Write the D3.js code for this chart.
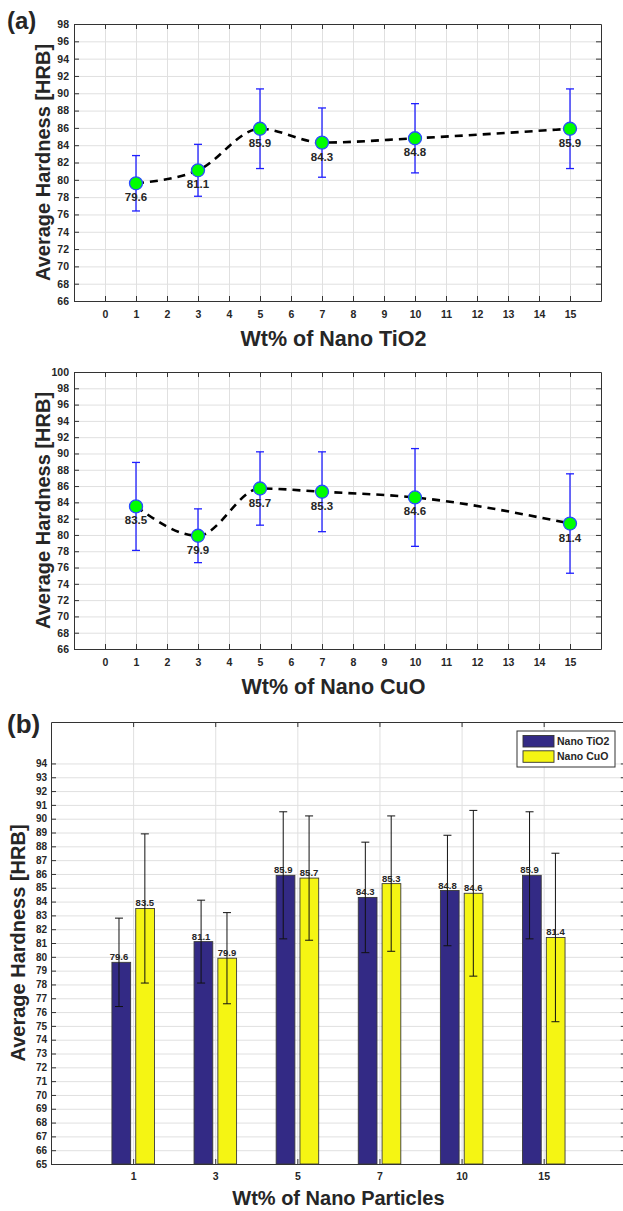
<!DOCTYPE html>
<html>
<head>
<meta charset="utf-8">
<script src="https://cdn.jsdelivr.net/npm/d3@7"></script>
<style>
    body { margin: 0; background: #fff; }
    svg text { font-family: "Liberation Sans", Arial, sans-serif; font-weight: bold; fill: #262626; }
    .grid line { stroke: #e0e0e0; stroke-width: 1; }
    .grid path { display: none; }
    .ax path, .ax line { stroke: #333; stroke-width: 1; }
</style>
</head>
<body>
<div id="chart"></div>
<script>

// values
const wtPercent = [1, 3, 5, 7, 10, 15];
const tio2Hardness = [79.6, 81.1, 85.9, 84.3, 84.8, 85.9];
const tio2Error = [3.2, 3.0, 4.6, 4.0, 4.0, 4.6];
const cuoHardness = [83.5, 79.9, 85.7, 85.3, 84.6, 81.4];
const cuoError = [5.4, 3.3, 4.5, 4.9, 6.0, 6.1];

// tick labels
const lineXTicks = [0, 1, 2, 3, 4, 5, 6, 7, 8, 9, 10, 11, 12, 13, 14, 15];
const tio2YTicks = [66, 68, 70, 72, 74, 76, 78, 80, 82, 84, 86, 88, 90, 92, 94, 96, 98];
const cuoYTicks = [66, 68, 70, 72, 74, 76, 78, 80, 82, 84, 86, 88, 90, 92, 94, 96, 98, 100];
const barYTicks = [65, 66, 67, 68, 69, 70, 71, 72, 73, 74, 75, 76, 77, 78, 79, 80,
    81, 82, 83, 84, 85, 86, 87, 88, 89, 90, 91, 92, 93, 94];
const seriesNames = ["Nano TiO2", "Nano CuO"];

const barColors = ["#332a85", "#f5f513"];

var width = 623, height = 1211, svg;

function init() {
    svg = d3.select("#chart").append("svg")
        .attr("width", width)
        .attr("height", height);

    drawLinePanel({ top: 24, bottom: 301, yMax: 98, yTicks: tio2YTicks,
        mean: tio2Hardness, err: tio2Error, xTitle: "Wt% of Nano TiO2" });
    drawLinePanel({ top: 372, bottom: 649, yMax: 100, yTicks: cuoYTicks,
        mean: cuoHardness, err: cuoError, xTitle: "Wt% of Nano CuO" });
    drawBarPanel();

    // panel letters
    svg.append("text").attr("x", 7).attr("y", 28.5).style("font-size", "24px").text("(a)");
    svg.append("text").attr("x", 7).attr("y", 732.5).style("font-size", "26px").text("(b)");
}

function drawLinePanel(cfg) {
    const left = 74, right = 601;
    const x = d3.scaleLinear().domain([-1, 16]).range([left, right]);
    const y = d3.scaleLinear().domain([66, cfg.yMax]).range([cfg.bottom, cfg.top]);
    const g = svg.append("g");

    // grid
    g.append("g").attr("class", "grid")
        .attr("transform", `translate(0,${cfg.bottom})`)
        .call(d3.axisBottom(x).tickValues(lineXTicks).tickSize(-(cfg.bottom - cfg.top)).tickFormat(""));
    g.append("g").attr("class", "grid")
        .attr("transform", `translate(${left},0)`)
        .call(d3.axisLeft(y).tickValues(cfg.yTicks).tickSize(-(right - left)).tickFormat(""));

    // axes, ticks pointing inward on all four sides
    g.append("g").attr("class", "ax")
        .attr("transform", `translate(0,${cfg.bottom})`)
        .call(d3.axisBottom(x).tickValues(lineXTicks).tickSize(-5).tickPadding(10).tickSizeOuter(0))
        .selectAll("text").style("font-size", "10.5px");
    g.append("g").attr("class", "ax")
        .attr("transform", `translate(0,${cfg.top})`)
        .call(d3.axisTop(x).tickValues(lineXTicks).tickSize(-5).tickFormat("").tickSizeOuter(0));
    g.append("g").attr("class", "ax")
        .attr("transform", `translate(${left},0)`)
        .call(d3.axisLeft(y).tickValues(cfg.yTicks).tickSize(-5).tickPadding(5).tickSizeOuter(0))
        .selectAll("text").style("font-size", "10.5px");
    g.append("g").attr("class", "ax")
        .attr("transform", `translate(${right},0)`)
        .call(d3.axisRight(y).tickValues(cfg.yTicks).tickSize(-5).tickFormat("").tickSizeOuter(0));

    // dashed trend line
    const line = d3.line().curve(d3.curveMonotoneX)
        .x((d, i) => x(wtPercent[i]))
        .y(d => y(d));
    g.append("path")
        .datum(cfg.mean)
        .attr("d", line)
        .attr("fill", "none")
        .attr("stroke", "#000")
        .attr("stroke-width", 2.6)
        .attr("stroke-dasharray", "8,6");

    // error bars
    const eb = g.selectAll(".eb").data(cfg.mean).join("g").attr("class", "eb");
    eb.append("line")
        .attr("x1", (d, i) => x(wtPercent[i])).attr("x2", (d, i) => x(wtPercent[i]))
        .attr("y1", (d, i) => y(d - cfg.err[i])).attr("y2", (d, i) => y(d + cfg.err[i]));
    eb.append("line")
        .attr("x1", (d, i) => x(wtPercent[i]) - 4).attr("x2", (d, i) => x(wtPercent[i]) + 4)
        .attr("y1", (d, i) => y(d + cfg.err[i])).attr("y2", (d, i) => y(d + cfg.err[i]));
    eb.append("line")
        .attr("x1", (d, i) => x(wtPercent[i]) - 4).attr("x2", (d, i) => x(wtPercent[i]) + 4)
        .attr("y1", (d, i) => y(d - cfg.err[i])).attr("y2", (d, i) => y(d - cfg.err[i]));
    eb.selectAll("line").attr("stroke", "#1f1fff").attr("stroke-width", 1.3);

    // markers
    g.selectAll(".pt").data(cfg.mean).join("circle")
        .attr("class", "pt")
        .attr("cx", (d, i) => x(wtPercent[i]))
        .attr("cy", d => y(d))
        .attr("r", 6.5)
        .attr("fill", "#00ff00")
        .attr("stroke", "#2a4cff")
        .attr("stroke-width", 1.3);

    // value labels under each point
    g.selectAll(".lbl").data(cfg.mean).join("text")
        .attr("class", "lbl")
        .attr("x", (d, i) => x(wtPercent[i]))
        .attr("y", d => y(d) + 18)
        .attr("text-anchor", "middle")
        .style("font-size", "11.5px")
        .text(d => d.toFixed(1));

    // titles
    g.append("text")
        .attr("x", (left + right) / 2 - 4).attr("y", cfg.bottom + 45)
        .attr("text-anchor", "middle").style("font-size", "21.5px")
        .text(cfg.xTitle);
    g.append("text")
        .attr("transform", `translate(50,${(cfg.top + cfg.bottom) / 2}) rotate(-90)`)
        .attr("text-anchor", "middle").style("font-size", "20px")
        .text("Average Hardness [HRB]");
}

function drawBarPanel() {
    const left = 51, right = 625.8, top = 722, bottom = 1164;
    const x = d3.scaleLinear().domain([0, 7]).range([left, right]);
    const y = d3.scaleLinear().domain([65, 97]).range([bottom, top]);
    const cats = wtPercent.map((d, i) => i + 1);
    const g = svg.append("g");

    g.append("g").attr("class", "grid")
        .attr("transform", `translate(0,${bottom})`)
        .call(d3.axisBottom(x).tickValues(cats).tickSize(-(bottom - top)).tickFormat(""));
    g.append("g").attr("class", "grid")
        .attr("transform", `translate(${left},0)`)
        .call(d3.axisLeft(y).tickValues(barYTicks).tickSize(-(right - left)).tickFormat(""));

    // two series side by side, with bar offset and error bar offset
    const series = [
        { mean: tio2Hardness, err: tio2Error, off: -0.144, eoff: -0.172 },
        { mean: cuoHardness, err: cuoError, off: 0.146, eoff: 0.143 }
    ];
    const bw = 0.228;

    series.forEach(function (s, k) {
        g.selectAll(".bar" + k).data(s.mean).join("rect")
            .attr("class", "bar" + k)
            .attr("x", (d, i) => x(cats[i] + s.off - bw / 2))
            .attr("width", x(bw) - x(0))
            .attr("y", d => y(d))
            .attr("height", d => y(65) - y(d))
            .attr("fill", barColors[k])
            .attr("stroke", "#3a3a3a")
            .attr("stroke-width", 0.9);
    });

    series.forEach(function (s, k) {
        const ex = i => x(cats[i] + s.eoff);
        const eb = g.selectAll(".beb" + k).data(s.mean).join("g").attr("class", "beb" + k);
        eb.append("line")
            .attr("x1", (d, i) => ex(i)).attr("x2", (d, i) => ex(i))
            .attr("y1", (d, i) => y(d - s.err[i])).attr("y2", (d, i) => y(d + s.err[i]));
        eb.append("line")
            .attr("x1", (d, i) => ex(i) - 4).attr("x2", (d, i) => ex(i) + 4)
            .attr("y1", (d, i) => y(d + s.err[i])).attr("y2", (d, i) => y(d + s.err[i]));
        eb.append("line")
            .attr("x1", (d, i) => ex(i) - 4).attr("x2", (d, i) => ex(i) + 4)
            .attr("y1", (d, i) => y(d - s.err[i])).attr("y2", (d, i) => y(d - s.err[i]));
        eb.selectAll("line").attr("stroke", "#111").attr("stroke-width", 1);

        g.selectAll(".blbl" + k).data(s.mean).join("text")
            .attr("class", "blbl" + k)
            .attr("x", (d, i) => ex(i))
            .attr("y", d => y(d) - 2)
            .attr("text-anchor", "middle")
            .style("font-size", "9.5px")
            .text(d => d.toFixed(1));
    });

    // axes
    g.append("g").attr("class", "ax")
        .attr("transform", `translate(0,${bottom})`)
        .call(d3.axisBottom(x).tickValues(cats).tickSize(-5).tickPadding(9).tickSizeOuter(0)
            .tickFormat(i => wtPercent[i - 1]))
        .selectAll("text").style("font-size", "10.5px");
    g.append("g").attr("class", "ax")
        .attr("transform", `translate(0,${top})`)
        .call(d3.axisTop(x).tickValues(cats).tickSize(-5).tickFormat("").tickSizeOuter(0));
    g.append("g").attr("class", "ax")
        .attr("transform", `translate(${left},0)`)
        .call(d3.axisLeft(y).tickValues(barYTicks).tickSize(-5).tickPadding(4).tickSizeOuter(0))
        .selectAll("text").style("font-size", "10px");
    g.append("g").attr("class", "ax")
        .attr("transform", `translate(${right},0)`)
        .call(d3.axisRight(y).tickValues(barYTicks).tickSize(-5).tickFormat("").tickSizeOuter(0));

    // legend
    const lg = g.append("g").attr("transform", "translate(517,731)");
    lg.append("rect").attr("width", 98).attr("height", 36)
        .attr("fill", "#fff").attr("stroke", "#333").attr("stroke-width", 1);
    seriesNames.forEach(function (name, k) {
        lg.append("rect")
            .attr("x", 6).attr("y", 4.5 + k * 15.3)
            .attr("width", 31).attr("height", 11.5)
            .attr("fill", barColors[k]).attr("stroke", "#333").attr("stroke-width", 0.9);
        lg.append("text")
            .attr("x", 40).attr("y", 14 + k * 15.3)
            .style("font-size", "10.5px")
            .text(name);
    });

    g.append("text")
        .attr("x", (left + right) / 2).attr("y", 1205)
        .attr("text-anchor", "middle").style("font-size", "20px")
        .text("Wt% of Nano Particles");
    g.append("text")
        .attr("transform", `translate(25,${(top + bottom) / 2}) rotate(-90)`)
        .attr("text-anchor", "middle").style("font-size", "20px")
        .text("Average Hardness [HRB]");
}

window.onload = init();
</script>
</body>
</html>
